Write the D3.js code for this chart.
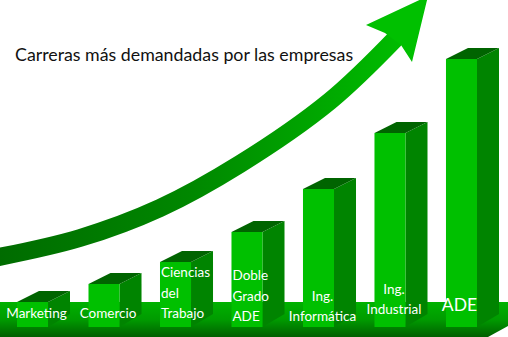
<!DOCTYPE html>
<html>
<head>
<meta charset="utf-8">
<script src="https://cdn.jsdelivr.net/npm/d3@7"></script>
<style>
  html, body { margin: 0; padding: 0; background: #fff; }
  svg { display: block; }
</style>
</head>
<body>
<div id="viz"></div>
<script>
const width = 508;
const height = 337;

// data
const careers = ['Marketing', 'Comercio', 'Ciencias del Trabajo', 'Doble Grado ADE',
  'Ing. Informática', 'Ing. Industrial', 'ADE'];
const labelLines = [['Marketing'], ['Comercio'], ['Ciencias', 'del', 'Trabajo'],
  ['Doble', 'Grado', 'ADE'], ['Ing.', 'Informática'], ['Ing.', 'Industrial'], ['ADE']];
const demand = [25, 43, 65, 95, 138, 194, 268];
const title = 'Carreras más demandadas por las empresas';

// layout bits
const baseY = 327;
const depthX = 22, depthY = -11;
const lastBaseline = [318, 318, 318, 321, 321, 314, 311];
const arrowPath = [[-6, 258], [80, 238], [160, 208], [240, 164], [330, 101], [397, 37]];

const x = d3.scaleBand()
  .domain(careers)
  .range([17, 477])
  .paddingInner(0.566)
  .paddingOuter(0);

const y = d3.scaleLinear()
  .domain([0, 300])
  .range([baseY, baseY - 300]);

const svg = d3.select('#viz').append('svg')
  .attr('width', width)
  .attr('height', height);

const defs = svg.append('defs');
defs.html(`<linearGradient id="floorGrad" x1="0" y1="0" x2="0" y2="1">
    <stop offset="0%" stop-color="rgb(0,178,0)"/>
    <stop offset="50%" stop-color="rgb(0,155,0)"/>
    <stop offset="100%" stop-color="rgb(0,95,0)"/>
  </linearGradient>
  <linearGradient id="arrowGrad" gradientUnits="userSpaceOnUse" x1="0" y1="0" x2="420" y2="0">
    <stop offset="0%" stop-color="rgb(0,108,0)"/>
    <stop offset="45%" stop-color="rgb(0,135,0)"/>
    <stop offset="100%" stop-color="rgb(0,192,0)"/>
  </linearGradient>`);

// floor slab
svg.append('path')
  .attr('fill', 'url(#floorGrad)')
  .attr('d', `M0,302 L${width},302 L${width},326 L488,${height} L0,${height} Z`);

// arrow
svg.append('path')
  .attr('fill', 'none')
  .attr('stroke', 'url(#arrowGrad)')
  .attr('stroke-width', 18)
  .attr('d', d3.line().curve(d3.curveCatmullRom)(arrowPath));

svg.append('path')
  .attr('fill', 'rgb(0,192,0)')
  .attr('d', 'M366,25 L428,-4 L412,62 L401,45 L385,33 Z');

// bars
const bars = svg.append('g').selectAll('g')
  .data(careers)
  .join('g');

const w = x.bandwidth();

bars.append('path')
  .attr('fill', 'rgb(0,132,0)')
  .attr('d', (d, i) => {
    const x1 = x(d) + w, top = y(demand[i]);
    return `M${x1},${top} L${x1 + depthX},${top + depthY} L${x1 + depthX},${baseY + depthY - 2} L${x1},${baseY} Z`;
  });

bars.append('path')
  .attr('fill', 'rgb(0,100,0)')
  .attr('d', (d, i) => {
    const x0 = x(d), top = y(demand[i]);
    return `M${x0},${top} L${x0 + w},${top} L${x0 + w + depthX},${top + depthY} L${x0 + depthX},${top + depthY} Z`;
  });

bars.append('rect')
  .attr('fill', 'rgb(0,192,0)')
  .attr('x', d => x(d))
  .attr('y', (d, i) => y(demand[i]))
  .attr('width', w)
  .attr('height', (d, i) => baseY - y(demand[i]));

// labels
const labels = svg.append('g')
  .attr('font-family', 'Lato, "Open Sans", sans-serif')
  .attr('fill', '#fff');

careers.forEach((c, i) => {
  const lines = labelLines[i];
  const multi = lines.length === 3;
  const big = i === careers.length - 1;
  const t = labels.append('text')
    .attr('font-size', big ? 17.5 : 13.5)
    .attr('text-anchor', multi ? 'start' : 'middle');
  const tx = multi ? x(c) + 1 : x(c) + w / 2 + (big ? -2 : 4);
  lines.forEach((line, j) => {
    t.append('tspan')
      .attr('x', tx)
      .attr('y', lastBaseline[i] - (lines.length - 1 - j) * 20.5)
      .text(line);
  });
});

// title
svg.append('text')
  .attr('x', 15)
  .attr('y', 61)
  .attr('font-family', 'Lato, "Open Sans", sans-serif')
  .attr('font-size', 17.8)
  .attr('fill', '#111')
  .text(title);
</script>
</body>
</html>
